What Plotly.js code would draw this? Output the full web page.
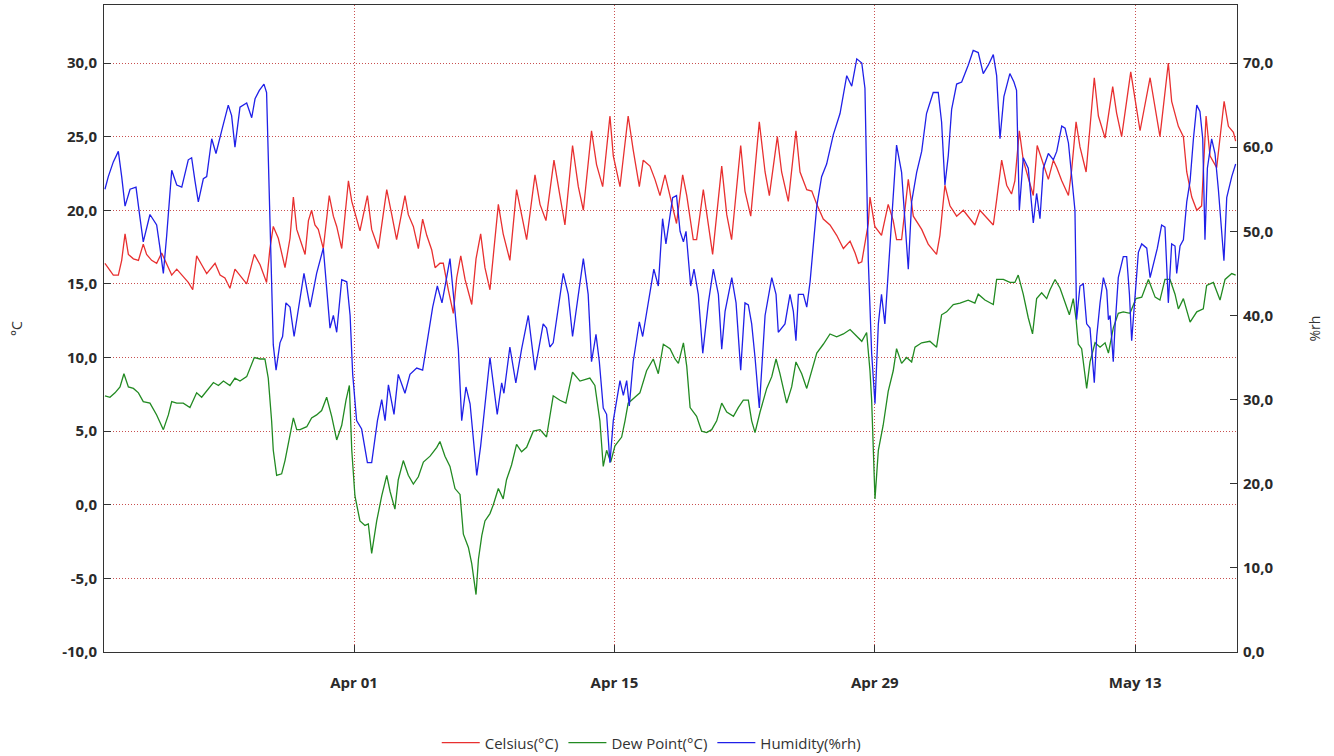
<!DOCTYPE html>
<html>
<head>
<meta charset="utf-8">
<script src="https://cdn.plot.ly/plotly-3.0.1.min.js"></script>
<style>html,body{margin:0;padding:0;background:#fff;}#chart{width:1334px;height:756px;}</style>
</head>
<body>
<div id="chart"></div>
<script>
// Time in days since 2019-03-18 00:00
const baseDate = Date.UTC(2019, 2, 18);

const celsiusT = [0.61,0.79,1.06,1.33,1.51,1.69,1.87,2.14,2.41,2.67,2.85,3.12,3.39,3.66,3.93,4.20,4.47,4.74,5.09,5.33,5.54,5.81,6.08,6.53,6.80,7.06,7.33,7.60,7.87,8.23,8.64,8.95,9.30,9.48,9.66,9.93,10.29,10.56,10.74,10.92,11.00,11.37,11.55,11.72,11.90,12.08,12.35,12.67,12.89,13.07,13.34,13.70,13.88,14.14,14.32,14.72,14.95,15.31,15.76,16.03,16.29,16.74,16.92,17.19,17.46,17.69,17.91,18.18,18.36,18.62,18.80,19.07,19.34,19.52,19.74,19.97,20.33,20.56,20.81,21.04,21.31,21.76,22.02,22.38,22.74,23.01,23.28,23.73,24.00,24.32,24.75,25.07,25.34,25.75,26.06,26.33,26.77,27.04,27.37,27.76,27.94,28.30,28.74,29.01,29.34,29.55,29.91,30.18,30.45,30.72,30.99,31.34,31.67,31.89,32.24,32.42,32.78,33.05,33.28,33.77,34.04,34.30,34.79,35.02,35.33,35.79,36.10,36.33,36.76,36.99,37.35,37.76,37.98,38.34,38.61,38.88,39.23,39.59,39.95,40.31,40.67,40.94,41.12,41.30,41.47,41.65,41.74,42.00,42.36,42.72,42.99,43.17,43.44,43.80,44.07,44.52,44.87,45.32,45.50,45.77,46.04,46.40,46.76,47.11,47.38,47.65,47.92,48.37,48.55,48.82,49.09,49.35,49.53,49.77,49.98,50.34,50.52,50.73,51.06,51.33,51.60,51.78,52.05,52.41,52.58,52.82,53.03,53.36,53.80,54.02,54.38,54.79,55.00,55.27,55.76,56.04,56.26,56.80,57.07,57.33,57.78,57.96,58.32,58.59,58.77,59.04,59.31,59.57,59.81,60.02,60.38,60.78,61.01,61.28,61.40];
const celsiusV = [16.4,16.1,15.6,15.6,16.6,18.4,17.0,16.7,16.6,17.7,17.0,16.6,16.4,17.1,16.3,15.6,16.0,15.6,15.1,14.6,16.9,16.3,15.7,16.4,15.6,15.4,14.7,16.0,15.6,15.0,17.0,16.3,15.1,17.4,18.9,18.1,16.1,18.1,20.9,18.7,18.4,17.0,19.3,20.0,19.0,18.7,17.4,21.0,19.6,18.9,17.4,22.0,20.6,19.4,18.6,21.0,18.7,17.4,21.4,19.7,18.0,21.0,19.7,18.9,17.4,19.4,18.3,17.3,16.1,16.4,16.4,14.6,13.0,15.4,16.9,15.3,13.6,16.7,18.4,16.1,14.6,20.4,18.4,16.6,21.4,19.7,18.0,22.4,20.4,19.3,23.4,21.0,19.0,24.4,21.6,20.0,25.4,23.1,21.6,26.4,23.7,21.6,26.4,24.1,21.6,23.4,23.0,22.1,21.0,22.4,20.9,19.1,22.4,21.0,18.0,18.0,21.4,19.0,17.0,23.0,19.7,18.0,24.4,21.3,19.6,26.0,22.6,21.0,25.0,22.6,20.6,25.4,22.6,21.4,21.3,20.4,19.4,19.0,18.3,17.4,17.9,17.1,16.4,16.5,17.7,19.1,20.9,18.9,18.3,20.4,19.3,18.0,18.0,22.1,19.6,18.7,17.7,17.0,18.3,21.7,20.3,19.6,20.0,19.4,19.0,20.0,19.6,19.0,20.7,23.4,21.7,21.1,22.0,25.4,23.4,21.7,21.0,24.4,23.1,22.1,23.4,22.9,22.0,21.0,22.7,26.0,24.3,22.6,29.0,26.4,24.9,28.4,26.6,25.0,29.4,27.1,25.4,29.0,26.9,25.0,30.0,27.4,25.7,25.0,22.6,20.9,20.0,20.3,26.4,23.7,22.9,27.4,25.7,25.3,24.7];

const dewT = [0.61,0.88,1.15,1.42,1.63,1.87,2.14,2.41,2.67,3.03,3.39,3.75,4.02,4.20,4.47,4.82,5.18,5.54,5.81,6.08,6.44,6.71,6.98,7.33,7.60,7.87,8.23,8.64,8.95,9.21,9.39,9.57,9.66,9.84,10.11,10.29,10.56,10.74,10.92,11.10,11.46,11.72,11.99,12.26,12.53,12.80,13.07,13.34,13.57,13.75,13.88,14.05,14.32,14.59,14.77,14.95,15.22,15.49,15.76,15.94,16.20,16.38,16.65,16.92,17.19,17.46,17.73,18.09,18.45,18.62,18.89,19.16,19.43,19.70,19.88,20.15,20.33,20.56,20.69,20.87,21.04,21.31,21.49,21.76,22.02,22.20,22.47,22.74,23.01,23.28,23.64,24.00,24.35,24.71,25.07,25.39,25.75,26.15,26.68,26.95,27.22,27.40,27.58,27.80,28.03,28.39,28.57,28.74,29.10,29.37,29.73,30.09,30.36,30.63,30.99,31.26,31.44,31.71,31.89,32.07,32.42,32.69,32.96,33.23,33.50,33.77,34.04,34.40,34.66,34.93,35.20,35.38,35.56,35.83,36.19,36.46,36.69,36.90,37.26,37.53,37.76,38.07,38.34,38.61,38.88,39.23,39.59,39.95,40.31,40.67,41.03,41.30,41.56,41.74,41.83,42.01,42.19,42.45,42.72,42.99,43.17,43.44,43.71,43.98,44.16,44.52,44.96,45.32,45.59,45.86,46.22,46.58,47.02,47.38,47.56,47.92,48.37,48.55,48.91,49.26,49.53,49.71,49.98,50.25,50.48,50.70,50.97,51.24,51.42,51.69,51.96,52.23,52.46,52.67,52.82,52.94,53.12,53.39,53.57,53.84,54.11,54.38,54.56,54.82,55.09,55.36,55.72,56.04,56.35,56.71,57.07,57.33,57.60,57.87,58.14,58.32,58.59,58.95,59.31,59.66,59.84,60.20,60.56,60.83,61.19,61.40];
const dewV = [7.4,7.3,7.6,8.0,8.9,8.0,7.9,7.6,7.0,6.9,6.1,5.1,6.1,7.0,6.9,6.9,6.6,7.6,7.3,7.7,8.3,8.1,8.4,8.1,8.6,8.4,8.7,10.0,9.9,9.9,8.6,5.7,3.7,2.0,2.1,3.0,4.9,5.9,5.1,5.1,5.3,5.9,6.1,6.4,7.3,6.0,4.4,5.4,7.1,8.1,3.7,0.6,-1.1,-1.4,-1.3,-3.3,-1.1,0.6,2.0,0.9,-0.3,1.7,3.0,2.0,1.4,1.9,2.9,3.3,3.9,4.3,3.3,2.6,1.1,0.7,-2.0,-2.9,-4.0,-6.1,-3.7,-2.1,-1.1,-0.6,0.0,1.1,0.4,1.7,2.7,4.1,3.6,3.9,5.0,5.1,4.6,7.4,7.1,6.9,9.0,8.4,8.6,8.1,5.7,2.6,3.7,2.9,4.0,4.6,5.7,6.9,7.3,7.6,9.1,9.9,8.9,10.9,10.6,9.9,9.6,11.0,9.4,6.6,6.0,5.0,4.9,5.1,5.7,6.9,6.3,6.0,6.6,7.1,7.1,5.7,4.9,6.3,7.9,8.7,9.9,8.9,6.9,8.0,9.7,8.9,7.9,9.1,10.3,10.9,11.6,11.4,11.6,11.9,11.4,11.1,11.7,9.1,7.1,0.4,3.7,5.4,7.7,9.1,10.6,9.6,10.0,9.7,10.7,11.0,11.1,10.7,12.9,13.1,13.6,13.7,13.9,13.7,14.3,13.9,13.6,15.3,15.3,15.1,15.1,15.6,14.3,12.7,11.6,14.0,14.4,14.0,14.6,15.3,14.7,13.7,12.9,14.0,12.6,10.9,10.6,7.9,9.7,11.0,10.7,11.0,10.3,12.0,13.0,13.1,13.0,14.0,14.1,15.3,14.1,13.9,15.3,15.3,14.3,13.3,14.0,12.4,13.1,13.3,14.9,15.1,13.9,15.3,15.7,15.6];

const humT = [0.61,0.79,1.06,1.33,1.51,1.69,1.96,2.28,2.50,2.67,3.03,3.39,3.57,3.75,3.93,4.20,4.47,4.74,5.09,5.27,5.45,5.63,5.90,6.08,6.35,6.58,6.89,7.24,7.42,7.60,7.87,8.23,8.50,8.68,8.91,9.16,9.30,9.39,9.52,9.66,9.81,10.02,10.16,10.34,10.56,10.78,11.31,11.64,11.99,12.35,12.71,12.89,13.07,13.34,13.61,13.79,13.93,14.14,14.41,14.72,14.95,15.26,15.49,15.67,15.85,16.15,16.38,16.74,17.01,17.37,17.69,17.94,18.23,18.48,18.73,18.98,19.16,19.43,19.61,19.79,20.02,20.24,20.60,20.81,21.04,21.31,21.70,21.94,22.06,22.38,22.70,23.01,23.37,23.73,24.17,24.35,24.53,24.71,25.25,25.52,25.75,26.06,26.33,26.59,26.77,27.01,27.19,27.40,27.58,27.76,27.94,28.30,28.48,28.66,28.80,29.01,29.34,29.52,29.73,30.12,30.36,30.59,30.77,31.13,31.34,31.53,31.71,31.85,32.10,32.28,32.51,32.75,33.05,33.32,33.59,33.77,33.95,34.31,34.54,34.79,35.02,35.20,35.38,35.56,35.79,36.10,36.46,36.69,36.81,37.17,37.44,37.62,37.76,37.89,38.16,38.34,38.52,38.70,38.88,39.14,39.41,39.77,40.13,40.49,40.76,41.03,41.30,41.47,41.65,41.83,42.01,42.19,42.36,42.54,42.81,42.99,43.17,43.44,43.62,43.80,43.98,44.25,44.52,44.78,45.14,45.41,45.59,45.77,45.95,46.13,46.40,46.67,47.02,47.29,47.56,47.83,48.10,48.37,48.55,48.73,48.94,49.26,49.48,49.62,49.77,49.98,50.25,50.52,50.70,50.88,51.06,51.33,51.60,51.78,52.05,52.23,52.41,52.58,52.76,52.85,53.03,53.21,53.39,53.57,53.66,53.80,53.93,54.11,54.29,54.47,54.56,54.65,54.82,54.91,55.09,55.36,55.54,55.69,55.81,55.99,56.17,56.35,56.62,56.80,56.98,57.19,57.42,57.60,57.78,57.96,58.14,58.23,58.41,58.59,58.77,58.95,59.13,59.31,59.48,59.63,59.75,59.88,60.11,60.29,60.47,60.65,60.77,60.92,61.19,61.40];
const humV = [55.0,56.5,58.25,59.5,56.5,53.0,55.0,55.25,51.5,48.75,52.0,50.75,48.0,45.0,49.5,57.25,55.5,55.25,58.5,58.75,56.0,53.5,56.25,56.5,61.0,59.25,62.0,65.0,63.75,60.0,64.75,65.25,63.5,65.75,66.75,67.5,66.5,59.5,47.5,36.5,33.5,36.75,37.5,41.5,41.0,37.5,45.0,41.0,45.0,48.0,38.5,40.0,38.0,44.25,44.0,40.0,33.0,27.5,26.5,22.5,22.5,27.5,30.0,27.5,31.75,28.25,33.0,30.75,33.0,33.75,33.5,37.0,41.0,43.5,41.5,44.5,46.75,40.5,36.0,27.5,31.5,29.5,21.0,24.5,29.5,35.0,28.25,32.0,30.75,36.25,32.0,36.0,40.0,33.5,39.0,38.5,36.25,36.75,45.0,42.5,37.5,42.5,46.75,42.5,34.5,37.75,34.5,29.0,28.25,22.5,27.5,32.25,30.5,32.25,29.25,34.5,39.25,37.5,40.5,45.5,43.5,51.5,48.5,54.0,54.25,50.0,48.75,50.0,43.5,45.5,42.5,35.5,41.5,45.5,42.5,36.0,40.5,44.5,41.5,33.5,41.5,41.25,39.0,35.0,29.0,40.0,44.5,42.5,38.0,39.0,42.5,40.5,37.0,42.5,42.5,41.0,44.0,48.5,53.0,56.5,58.0,61.5,64.0,68.5,67.25,70.5,70.0,67.0,46.5,35.5,29.5,39.0,42.5,39.0,48.5,55.0,60.25,57.0,51.5,45.5,53.5,57.0,59.5,64.0,66.5,66.5,63.0,55.5,59.0,64.5,67.5,67.75,69.75,71.5,71.25,68.75,69.75,71.0,68.5,61.0,66.0,68.75,67.75,66.75,52.5,58.75,57.5,51.0,54.5,51.5,57.5,59.25,58.5,59.5,62.5,62.25,60.5,56.5,52.5,39.5,43.5,43.75,39.0,38.5,36.0,32.0,37.5,41.5,44.5,43.0,39.5,40.0,34.5,38.5,44.5,47.0,47.0,42.5,37.0,42.5,47.5,48.5,48.0,44.5,46.0,48.0,50.75,50.5,41.5,48.5,48.25,45.0,48.25,49.0,53.5,56.0,61.0,65.0,64.25,61.0,49.0,57.5,61.0,59.25,55.0,49.5,46.5,54.0,56.5,58.0];

const seriesNames = ['Celsius(°C)', 'Dew Point(°C)', 'Humidity(%rh)'];
const dateTicks = ['2019-04-01', '2019-04-15', '2019-04-29', '2019-05-13'];
const dateTickText = ['Apr 01', 'Apr 15', 'Apr 29', 'May 13'];
const tempTickVals = [-10, -5, 0, 5, 10, 15, 20, 25, 30];
const tempTickText = ['-10,0', '-5,0', '0,0', '5,0', '10,0', '15,0', '20,0', '25,0', '30,0'];
const humTickVals = [0, 10, 20, 30, 40, 50, 60, 70];
const humTickText = ['0,0', '10,0', '20,0', '30,0', '40,0', '50,0', '60,0', '70,0'];
const xRange = ['2019-03-18 13:25', '2019-05-18 11:20'];
const tempRange = [-10, 33.94];
const humRange = [0, 76.9];

function toDate(t) {
  return new Date(baseDate + t * 86400000).toISOString().replace('T', ' ').slice(0, 19);
}

const traces = [
  {x: celsiusT.map(toDate), y: celsiusV, name: seriesNames[0], type: 'scatter', mode: 'lines',
   line: {color: 'rgb(232,48,48)', width: 1.3}, yaxis: 'y'},
  {x: dewT.map(toDate), y: dewV, name: seriesNames[1], type: 'scatter', mode: 'lines',
   line: {color: 'rgb(34,138,34)', width: 1.3}, yaxis: 'y'},
  {x: humT.map(toDate), y: humV, name: seriesNames[2], type: 'scatter', mode: 'lines',
   line: {color: 'rgb(32,32,232)', width: 1.3}, yaxis: 'y2'}
];

const tickFont = {family: 'Open Sans, sans-serif', size: 15, color: '#2a2a2a', weight: 'bold'};
const gridCol = 'rgb(200,80,80)';
const gridDash = '1px,2px';

const layout = {
  width: 1334, height: 756,
  margin: {l: 104, r: 97, t: 5, b: 104, autoexpand: false},
  paper_bgcolor: '#ffffff', plot_bgcolor: '#ffffff',
  showlegend: true,
  legend: {orientation: 'h', x: 0.483, xanchor: 'center', y: -0.1406, yanchor: 'middle',
    font: {family: 'Open Sans, sans-serif', size: 15, color: '#333'}, itemwidth: 38},
  xaxis: {
    type: 'date', range: xRange, tickvals: dateTicks, ticktext: dateTickText,
    showgrid: true, gridcolor: gridCol, griddash: gridDash, gridwidth: 1,
    showline: true, linecolor: '#333', linewidth: 1, mirror: true,
    ticks: 'inside', ticklen: 7, tickcolor: '#333',
    tickfont: tickFont, ticklabelstandoff: 17, zeroline: false, automargin: false
  },
  yaxis: {
    range: tempRange, tickvals: tempTickVals, ticktext: tempTickText,
    showgrid: true, gridcolor: gridCol, griddash: gridDash, gridwidth: 1,
    showline: true, linecolor: '#333', linewidth: 1, mirror: true,
    ticks: 'inside', ticklen: 7, tickcolor: '#333',
    tickfont: tickFont, ticklabelstandoff: 3, zeroline: false, automargin: false,
    title: {text: '°C', font: {family: 'Open Sans, sans-serif', size: 14, color: '#333'}, standoff: 36}
  },
  yaxis2: {
    range: humRange, tickvals: humTickVals, ticktext: humTickText, overlaying: 'y', side: 'right',
    showgrid: false, showline: true, linecolor: '#333', linewidth: 1,
    ticks: 'inside', ticklen: 7, tickcolor: '#333',
    tickfont: tickFont, ticklabelstandoff: 2, zeroline: false, automargin: false,
    title: {text: '%rh', font: {family: 'Open Sans, sans-serif', size: 14, color: '#333'}, standoff: 37}
  }
};

Plotly.newPlot('chart', traces, layout, {displayModeBar: false, staticPlot: true});
</script>
</body>
</html>
